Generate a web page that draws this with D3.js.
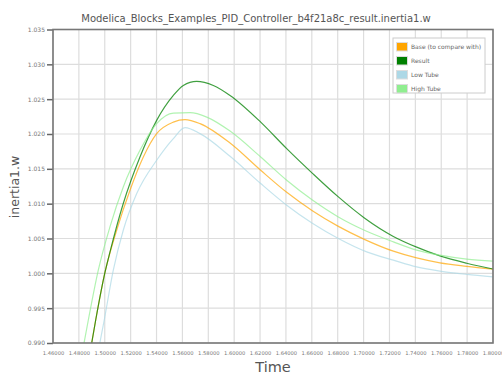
<!DOCTYPE html>
<html>
<head>
  <meta charset="UTF-8">
  <style>
    body { margin: 0; background: #fff; }
    svg { display: block; font-family: "DejaVu Sans", sans-serif; }
  </style>
</head>
<body>
<svg></svg>
<script src="https://d3js.org/d3.v7.min.js"></script>
<script>

let width = 502, height = 374;

// values, [time, inertia1.w]
let baseData = [
  [1.4899, 0.9900], [1.4930, 0.99330], [1.5002, 1.00017], [1.5092, 1.00619],
  [1.5195, 1.01193], [1.5298, 1.01670], [1.5401, 1.02005], [1.5530, 1.02171],
  [1.5620, 1.02206], [1.5736, 1.02149], [1.5968, 1.01870], [1.6205, 1.01479],
  [1.6406, 1.01163], [1.6607, 1.00895], [1.6805, 1.00674], [1.7006, 1.00488],
  [1.7230, 1.00318], [1.7410, 1.00221], [1.7590, 1.00151], [1.7797, 1.00101],
  [1.8000, 1.00060]
];
let resultData = [
  [1.4899, 0.9900], [1.4930, 0.99330], [1.5002, 1.00017], [1.5040, 1.00304],
  [1.5143, 1.01002], [1.5272, 1.01670], [1.5401, 1.02196], [1.5530, 1.02554],
  [1.5607, 1.02697], [1.5710, 1.02755], [1.5839, 1.02697], [1.5968, 1.02554],
  [1.6205, 1.02171], [1.6406, 1.01790], [1.6607, 1.01432], [1.6805, 1.01097],
  [1.7006, 1.00795], [1.7230, 1.00530], [1.7410, 1.00376], [1.7590, 1.00250],
  [1.7797, 1.00145], [1.8000, 1.00062]
];
let lowData = [
  [1.4962, 0.9900], [1.4996, 0.99330], [1.5066, 1.00046], [1.5143, 1.00619],
  [1.5247, 1.01145], [1.5401, 1.01623], [1.5530, 1.01934], [1.5620, 1.02091],
  [1.5736, 1.02005], [1.5968, 1.01680], [1.6205, 1.01289], [1.6406, 1.00978],
  [1.6607, 1.00715], [1.6805, 1.00500], [1.7024, 1.00308], [1.7230, 1.00189],
  [1.7410, 1.00093], [1.7590, 1.00032], [1.7797, 0.99985], [1.8000, 0.99950]
];
let highData = [
  [1.4840, 0.9900], [1.4873, 0.99330], [1.4950, 1.00046], [1.5040, 1.00667],
  [1.5143, 1.01240], [1.5272, 1.01766], [1.5401, 1.02149], [1.5530, 1.02300],
  [1.5659, 1.02306], [1.5788, 1.02243], [1.5968, 1.02042], [1.6205, 1.01670],
  [1.6406, 1.01336], [1.6607, 1.01049], [1.6805, 1.00810], [1.7006, 1.00619],
  [1.7230, 1.00452], [1.7410, 1.00333], [1.7590, 1.00261], [1.7797, 1.00204],
  [1.8000, 1.00175]
];

let xTicks = [1.46, 1.48, 1.50, 1.52, 1.54, 1.56, 1.58, 1.60, 1.62,
              1.64, 1.66, 1.68, 1.70, 1.72, 1.74, 1.76, 1.78, 1.80];
let yTicks = [0.990, 0.995, 1.000, 1.005, 1.010, 1.015, 1.020, 1.025, 1.030, 1.035];

let seriesNames = ["Base (to compare with)", "Result", "Low Tube", "High Tube"];
let seriesColors = ["orange", "green", "lightblue", "lightgreen"];

let svg = d3.select("svg")
    .attr("width", width)
    .attr("height", height);

let x = d3.scaleLinear().domain([1.46, 1.80]).range([53, 493]);
let y = d3.scaleLinear().domain([0.990, 1.035]).range([343, 29.5]);

// grid
svg.append("g")
.selectAll("line")
.data(xTicks)
.enter()
.append("line")
.attr("x1", d => x(d)).attr("x2", d => x(d))
.attr("y1", y.range()[1]).attr("y2", y.range()[0])
.attr("stroke", "#ddd")
.attr("stroke-width", 1.2);

svg.append("g")
.selectAll("line")
.data(yTicks)
.enter()
.append("line")
.attr("y1", d => y(d)).attr("y2", d => y(d))
.attr("x1", x.range()[0]).attr("x2", x.range()[1])
.attr("stroke", "#ddd")
.attr("stroke-width", 1.2);

// curves
svg.append("defs").append("clipPath")
.attr("id", "plotclip")
.append("rect")
.attr("x", x.range()[0]).attr("y", y.range()[1])
.attr("width", x.range()[1] - x.range()[0])
.attr("height", y.range()[0] - y.range()[1]);

let line = d3.line()
.x(d => x(d[0]))
.y(d => y(d[1]))
.curve(d3.curveMonotoneX);

let allSeries = [baseData, resultData, lowData, highData];

svg.append("g")
.attr("clip-path", "url(#plotclip)")
.selectAll("path")
.data(allSeries)
.enter()
.append("path")
.attr("d", d => line(d))
.attr("fill", "none")
.attr("stroke", (d, i) => seriesColors[i])
.attr("stroke-opacity", (d, i) => i == 1 ? 0.75 : 0.7)
.attr("stroke-width", 1.2);

// axes
let yAxis = svg.append("g")
.attr("transform", "translate(53,0)")
.call(d3.axisLeft(y).tickValues(yTicks).tickFormat(d3.format(".3f")).tickSize(6).tickSizeOuter(0));
yAxis.selectAll("text")
.attr("font-size", "6px")
.attr("font-family", "DejaVu Sans")
.attr("fill", "#777")
.attr("x", -8);

let xAxis = svg.append("g")
.attr("transform", "translate(0,343)")
.call(d3.axisBottom(x).tickValues(xTicks).tickFormat(d3.format(".5f")).tickSize(0).tickSizeOuter(0));
xAxis.selectAll("text")
.attr("font-size", "5.2px")
.attr("font-family", "DejaVu Sans")
.attr("fill", "#777")
.attr("y", 8);

svg.selectAll(".domain").attr("stroke", "none");
svg.selectAll(".tick line").attr("stroke", "#666").attr("stroke-width", 1.5);

// frame
svg.append("rect")
.attr("x", x.range()[0]).attr("y", y.range()[1])
.attr("width", x.range()[1] - x.range()[0])
.attr("height", y.range()[0] - y.range()[1])
.attr("fill", "none")
.attr("stroke", "#777")
.attr("stroke-width", 1.6);

// titles
svg.append("text")
.attr("x", 256).attr("y", 22)
.attr("text-anchor", "middle")
.attr("font-size", "10px")
.attr("fill", "#555")
.text("Modelica_Blocks_Examples_PID_Controller_b4f21a8c_result.inertia1.w");

svg.append("text")
.attr("transform", "translate(18.5,187) rotate(-90)")
.attr("text-anchor", "middle")
.attr("font-size", "12.5px")
.attr("fill", "#555")
.text("inertia1.w");

svg.append("text")
.attr("x", 273).attr("y", 372)
.attr("text-anchor", "middle")
.attr("font-size", "14.5px")
.attr("fill", "#555")
.text("Time");

// legend
let legend = svg.append("g").attr("transform", "translate(393,38)");
legend.append("rect")
.attr("width", 92).attr("height", 55)
.attr("fill", "white")
.attr("stroke", "#ccc");

let item = legend.selectAll("g")
.data(seriesNames)
.enter()
.append("g")
.attr("transform", (d, i) => "translate(0," + (i * 14) + ")");

item.append("rect")
.attr("x", 3.5).attr("y", 4.5)
.attr("width", 11).attr("height", 8.5)
.attr("fill", (d, i) => seriesColors[i])
.attr("stroke", "#ddd");

item.append("text")
.attr("x", 18).attr("y", 10.8)
.attr("font-size", "6px")
.attr("fill", "#666")
.text(d => d);

</script>
</body>
</html>
